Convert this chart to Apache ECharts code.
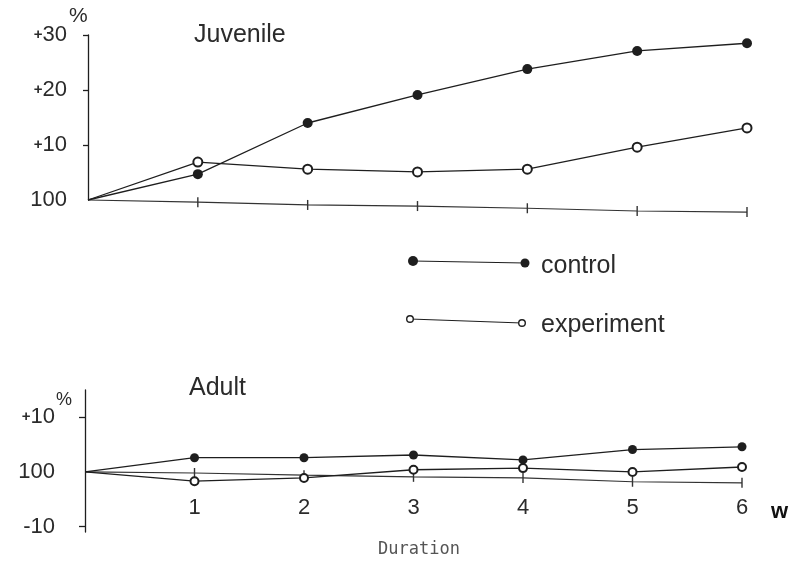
<!DOCTYPE html>
<html>
<head>
<meta charset="utf-8">
<script src="https://cdn.jsdelivr.net/npm/echarts@6/dist/echarts.min.js"></script>
<style>
html,body{margin:0;padding:0;background:#fff;}
#chart{width:798px;height:561px;}
</style>
</head>
<body>
<div id="chart"></div>
<script>
// ---- data ----
var weeks = [0, 1, 2, 3, 4, 5, 6];
var weekLabels = ['', '1', '2', '3', '4', '5', '6'];
var juvenileControl    = [0, 4.7, 14.0, 19.1, 23.8, 27.1, 28.5];
var juvenileExperiment = [0, 6.9, 5.6, 5.1, 5.6, 9.6, 13.1];
var juvenileBaseline   = [0, -0.4, -0.9, -1.1, -1.5, -2.0, -2.2];
var adultControl    = [0, 2.6, 2.6, 3.1, 2.2, 4.1, 4.6];
var adultExperiment = [0, -1.7, -1.1, 0.4, 0.7, 0.0, 0.9];
var adultBaseline   = [0, -0.2, -0.6, -0.9, -1.1, -1.8, -2.0];
var juvenileTicks = [0, 10, 20, 30];
var adultTicks = [-10, 0, 10];

var INK = '#1e1e1e';
var TXT = '#2b2b2b';
var FONT = '"Liberation Sans", Arial, sans-serif';

function pairs(vals) { return weeks.map(function (w, i) { return [w, vals[i]]; }); }
function hideFirst(size) {
  return function (v, p) { return p.dataIndex === 0 ? 0 : size; };
}
function lineSeries(name, vals, xi, filled, size) {
  return {
    name: name, type: 'line', xAxisIndex: xi, yAxisIndex: xi,
    data: pairs(vals),
    symbol: filled ? 'circle' : 'emptyCircle',
    symbolSize: hideFirst(size),
    showAllSymbol: true,
    clip: false,
    lineStyle: { color: INK, width: 1.3 },
    itemStyle: filled ? { color: INK } : { color: INK, borderColor: INK, borderWidth: 1.5 },
    z: 3
  };
}
function baseSeries(name, vals, xi) {
  return {
    name: name, type: 'line', xAxisIndex: xi, yAxisIndex: xi,
    data: pairs(vals),
    symbol: 'rect',
    symbolSize: function (v, p) { return p.dataIndex === 0 ? 0 : [1.4, 10]; },
    clip: false,
    lineStyle: { color: '#333', width: 1.2 },
    itemStyle: { color: '#333' },
    z: 2
  };
}
function plusFmt(v) {
  if (v === 0) return '100';
  if (v > 0) return '{p|+}' + v;
  return '-' + Math.abs(v);
}

var chart = echarts.init(document.getElementById('chart'), null, { renderer: 'canvas' });
chart.setOption({
  animation: false,
  backgroundColor: '#fff',
  title: [
    { text: 'Juvenile', left: 189, top: 18, textStyle: { fontFamily: FONT, fontSize: 25, fontWeight: 'normal', color: TXT } },
    { text: 'Adult', left: 184, top: 371, textStyle: { fontFamily: FONT, fontSize: 25, fontWeight: 'normal', color: TXT } }
  ],
  grid: [
    { left: 88, top: 35, width: 659, height: 165, outerBoundsMode: 'none' },
    { left: 85, top: 390, width: 657, height: 142, outerBoundsMode: 'none' }
  ],
  xAxis: [
    { type: 'value', gridIndex: 0, min: 0, max: 6, interval: 1,
      axisLine: { show: false }, axisTick: { show: false }, axisLabel: { show: false }, splitLine: { show: false } },
    { type: 'value', gridIndex: 1, min: 0, max: 6, interval: 1, offset: -41,
      axisLine: { show: false }, axisTick: { show: false }, splitLine: { show: false },
      axisLabel: { show: true, margin: 6, fontFamily: FONT, fontSize: 22, color: TXT,
        formatter: function (v) { return weekLabels[v] || ''; } } }
  ],
  yAxis: [
    { type: 'value', gridIndex: 0, min: 0, max: 30, interval: 10,
      splitLine: { show: false },
      axisLine: { show: true, lineStyle: { color: INK, width: 1.3 } },
      axisTick: { show: true, length: 5, customValues: [10, 20, 30], lineStyle: { color: INK, width: 1.3 } },
      axisLabel: { margin: 21, fontFamily: FONT, fontSize: 22, color: TXT, customValues: juvenileTicks,
        formatter: plusFmt, rich: { p: { fontSize: 15, fontWeight: 'bold', color: TXT, fontFamily: FONT } } } },
    { type: 'value', gridIndex: 1, min: -11, max: 15,
      splitLine: { show: false },
      axisLine: { show: true, lineStyle: { color: INK, width: 1.3 } },
      axisTick: { show: true, length: 6, customValues: [-10, 10], lineStyle: { color: INK, width: 1.3 } },
      axisLabel: { margin: 30, fontFamily: FONT, fontSize: 22, color: TXT, customValues: adultTicks,
        formatter: plusFmt, rich: { p: { fontSize: 15, fontWeight: 'bold', color: TXT, fontFamily: FONT } } } }
  ],
  graphic: [
    { type: 'text', left: 69, top: 6, style: { text: '%', font: '21px ' + FONT, fill: TXT } },
    { type: 'text', left: 56, top: 391, style: { text: '%', font: '18px ' + FONT, fill: TXT } },
    { type: 'text', left: 771, top: 501, style: { text: 'w', font: 'bold 22px ' + FONT, fill: '#111' } },
    { type: 'text', left: 378, top: 541, style: { text: 'Duration', font: '17px "DejaVu Sans Mono", "Liberation Mono", monospace', fill: '#555' } },
    // legend
    { type: 'line', shape: { x1: 413, y1: 261, x2: 525, y2: 263 }, style: { stroke: INK, lineWidth: 1.2 } },
    { type: 'circle', shape: { cx: 413, cy: 261, r: 5 }, style: { fill: INK } },
    { type: 'circle', shape: { cx: 525, cy: 263, r: 4.5 }, style: { fill: INK } },
    { type: 'text', x: 541, y: 266, style: { text: 'control', font: '25px ' + FONT, fill: TXT, verticalAlign: 'middle' } },
    { type: 'line', shape: { x1: 410, y1: 319, x2: 522, y2: 323 }, style: { stroke: INK, lineWidth: 1.2 } },
    { type: 'circle', shape: { cx: 410, cy: 319, r: 3.3 }, style: { fill: '#fff', stroke: INK, lineWidth: 1.4 } },
    { type: 'circle', shape: { cx: 522, cy: 323, r: 3.3 }, style: { fill: '#fff', stroke: INK, lineWidth: 1.4 } },
    { type: 'text', x: 541, y: 325, style: { text: 'experiment', font: '25px ' + FONT, fill: TXT, verticalAlign: 'middle' } }
  ],
  series: [
    baseSeries('juvenile axis', juvenileBaseline, 0),
    lineSeries('control', juvenileControl, 0, true, 10),
    lineSeries('experiment', juvenileExperiment, 0, false, 9),
    baseSeries('adult axis', adultBaseline, 1),
    lineSeries('control', adultControl, 1, true, 9),
    lineSeries('experiment', adultExperiment, 1, false, 8)
  ]
});
</script>
</body>
</html>
